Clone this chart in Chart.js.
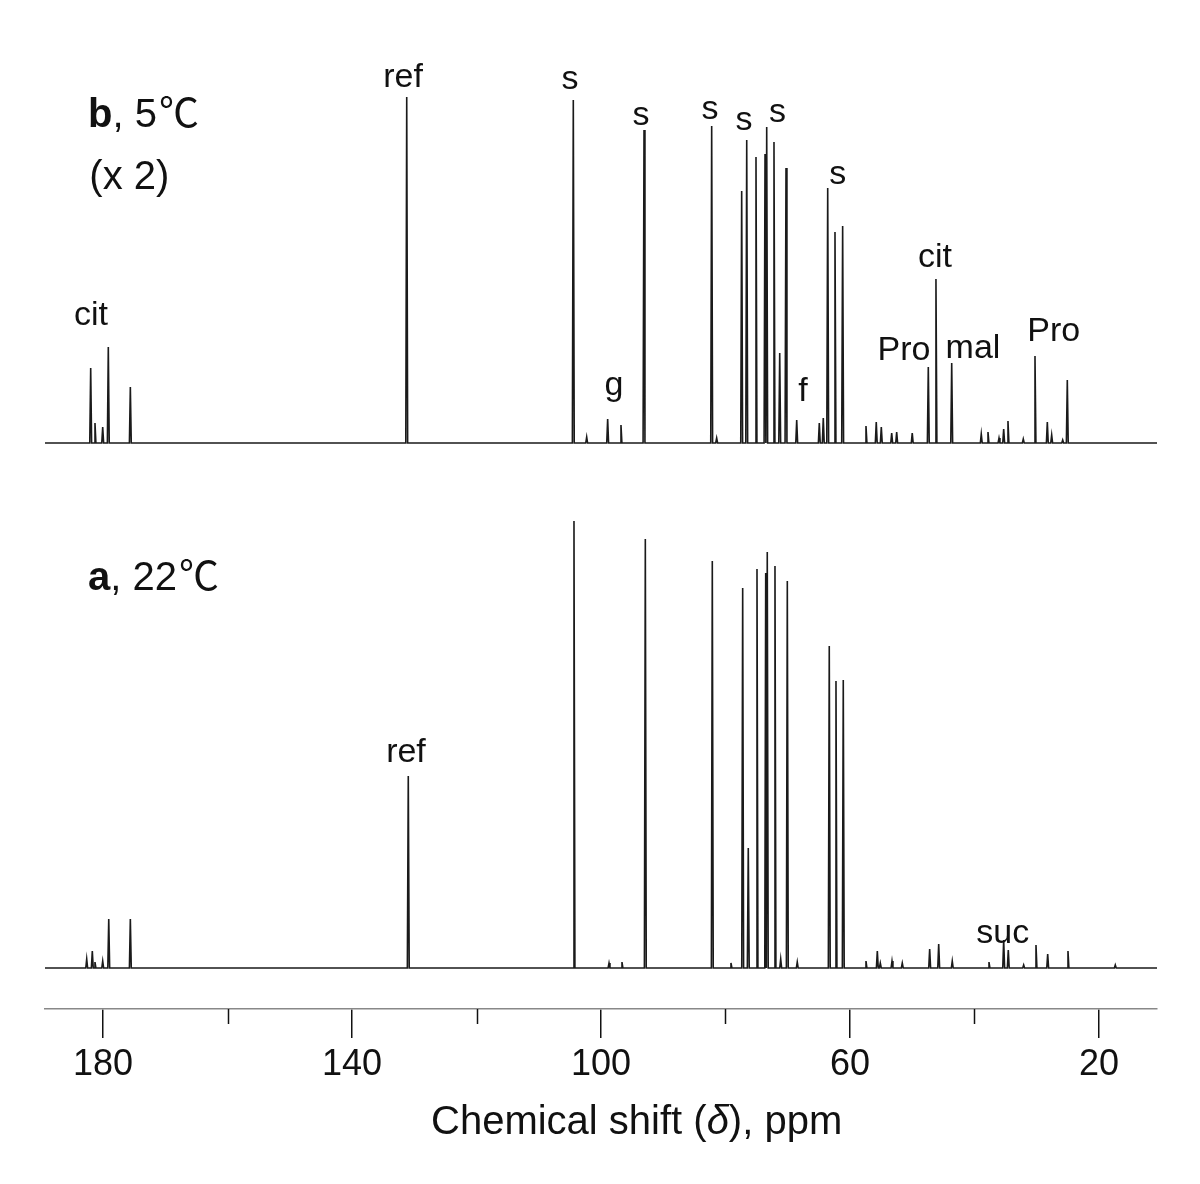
<!DOCTYPE html>
<html>
<head>
<meta charset="utf-8">
<script src="https://cdn.jsdelivr.net/npm/chart.js@4.4.1/dist/chart.umd.min.js"></script>
<style>
  html, body { margin: 0; padding: 0; background: #fff; }
  #wrap { width: 1200px; height: 1184px; }
</style>
</head>
<body>
<div id="wrap"><canvas id="nmrChart" width="1200" height="1184"></canvas></div>
<script>
const FONT = '"Liberation Sans", Arial, "Noto Sans CJK JP", sans-serif';
const CJK = '"Noto Sans CJK JP", "Liberation Sans", sans-serif';

// x axis range (ppm) and ticks
const ppmMin = 10.68, ppmMax = 189.32;
const tickVals = [180, 160, 140, 120, 100, 80, 60, 40, 20];
const labelVals = [180, 140, 100, 60, 20];

// trace b (5 C, x2) peaks: position (ppm) and height
const peakPpmB = [181.98, 181.29, 180.05, 179.15, 175.61, 131.21, 104.45, 102.30, 98.93, 96.79,
  93.09, 82.22, 81.42, 77.40, 76.59, 75.10, 73.65, 73.38, 72.21, 71.29, 70.28, 68.56,
  64.93, 64.29, 63.58, 62.41, 61.18, 57.43, 55.78, 54.97, 53.30, 52.50, 50.00,
  47.42, 46.19, 43.66, 38.91, 37.83, 36.06, 35.31, 34.62, 32.16, 30.28, 28.30, 27.60, 25.83, 25.09];
const peakHtB = [75, 20, 16, 96, 56, 346, 343, 6, 24, 18,
  313, 317, 5, 252, 303, 286, 289, 316, 301, 90, 275, 23,
  20, 25, 255, 211, 217, 17, 21, 16, 10, 11, 10,
  76, 164, 80, 9, 11, 5, 14, 22, 4, 87, 21, 8, 3, 63];

// trace a (22 C) peaks
const peakPpmA = [182.62, 181.72, 181.29, 180.05, 179.08, 175.61, 130.96, 104.34, 98.71, 96.63,
  92.88, 82.12, 79.12, 77.24, 76.34, 74.94, 73.54, 73.29, 72.05, 71.13, 70.07, 68.47,
  63.33, 62.25, 61.08, 57.43, 55.61, 55.13, 53.25, 51.60, 47.20, 45.75, 43.57,
  37.67, 35.31, 34.57, 32.10, 30.12, 28.24, 24.98, 17.38];
const peakHtA = [9, 17, 6, 7, 49, 49, 192, 447, 5, 6,
  429, 407, 5, 380, 120, 399, 395, 416, 402, 9, 387, 6,
  322, 287, 288, 7, 17, 5, 7, 5, 19, 24, 7,
  6, 28, 18, 3, 23, 14, 17, 3];

// peak labels: text, ppm, height, panel
const labText = ['ref', 's', 's', 's', 's', 's', 's', 'g', 'f', 'cit', 'cit', 'Pro', 'mal', 'Pro', 'ref', 'suc'];
const labPpm = [131.8, 104.98, 93.57, 82.49, 77.03, 71.65, 61.98, 97.91, 67.55, 181.93, 46.35, 51.33, 40.24, 27.28, 131.33, 35.47];
const labVal = [356, 354, 318, 324, 313, 321, 259, 48, 42, 118, 176, 83, 85, 102, 206, 25];
const labPanel = ['b', 'b', 'b', 'b', 'b', 'b', 'b', 'b', 'b', 'b', 'b', 'b', 'b', 'b', 'a', 'a'];

// panel captions: bold part, plain part, unit, ppm (left), height, panel
const capBold = ['b', '', 'a'];
const capText = [', 5', '(x 2)', ', 22'];
const capUnit = ['\u2103', '', '\u2103'];
const capPpm = [182.41, 182.2, 182.41];
const capVal = [316, 254, 378];
const capPanel = ['b', 'b', 'a'];

function spectrum(ppms, hts) {
  const half = 0.15;
  const pts = [{ x: ppmMax, y: 0 }, { x: ppmMin, y: 0 }];
  ppms.forEach((p, i) => {
    pts.push({ x: p + half, y: 0 }, { x: p, y: hts[i] }, { x: p - half, y: 0 });
  });
  pts.sort((a, b) => b.x - a.x);
  return pts;
}

const annotPlugin = {
  id: 'annot',
  afterDraw(chart) {
    const c = chart.ctx;
    const xs = chart.scales.x;
    c.save();
    c.fillStyle = '#111';
    c.textBaseline = 'alphabetic';

    // peak labels
    c.font = '34px ' + FONT;
    c.textAlign = 'center';
    labText.forEach((t, i) => {
      const ys = chart.scales[labPanel[i] === 'a' ? 'ya' : 'yb'];
      c.fillText(t, xs.getPixelForValue(labPpm[i]), ys.getPixelForValue(labVal[i]));
    });

    // panel captions
    c.textAlign = 'left';
    capText.forEach((t, i) => {
      const ys = chart.scales[capPanel[i] === 'a' ? 'ya' : 'yb'];
      let x = xs.getPixelForValue(capPpm[i]);
      const y = ys.getPixelForValue(capVal[i]);
      if (capBold[i]) {
        c.font = 'bold 40px ' + FONT;
        c.fillText(capBold[i], x, y);
        x += c.measureText(capBold[i]).width;
      }
      c.font = '40px ' + FONT;
      c.fillText(t, x, y);
      x += c.measureText(t).width;
      if (capUnit[i]) {
        c.font = '40px ' + CJK;
        c.fillText(capUnit[i], x + 2, y);
      }
    });

    // minor ticks
    const bottom = chart.chartArea.bottom;
    c.strokeStyle = '#111';
    c.lineWidth = 1.5;
    tickVals.filter(v => !labelVals.includes(v)).forEach(v => {
      const px = Math.round(xs.getPixelForValue(v)) + 0.5;
      c.beginPath();
      c.moveTo(px, bottom);
      c.lineTo(px, bottom + 15);
      c.stroke();
    });

    // axis title with italic delta
    const parts = [['Chemical shift (', ''], ['\u03b4', 'italic '], ['), ppm', '']];
    let tx = 431;
    const ty = 1134;
    parts.forEach(([s, st]) => {
      c.font = st + '40px ' + FONT;
      c.fillText(s, tx, ty);
      tx += c.measureText(s).width;
    });
    c.restore();
  }
};

const ctx = document.getElementById('nmrChart').getContext('2d');
const chart = new Chart(ctx, {
  type: 'line',
  data: {
    datasets: [
      {
        label: 'b, 5 C',
        data: spectrum(peakPpmB, peakHtB),
        yAxisID: 'yb',
        borderColor: '#1a1a1a',
        borderWidth: 1.6,
        pointRadius: 0,
        tension: 0,
        fill: false
      },
      {
        label: 'a, 22 C',
        data: spectrum(peakPpmA, peakHtA),
        yAxisID: 'ya',
        borderColor: '#1a1a1a',
        borderWidth: 1.6,
        pointRadius: 0,
        tension: 0,
        fill: false
      }
    ]
  },
  options: {
    responsive: false,
    animation: false,
    layout: { padding: { left: 45, right: 43, top: 40, bottom: 0 } },
    plugins: { legend: { display: false }, tooltip: { enabled: false } },
    scales: {
      x: {
        type: 'linear',
        reverse: true,
        min: ppmMin,
        max: ppmMax,
        afterBuildTicks: s => { s.ticks = tickVals.map(v => ({ value: v })); },
        afterFit: s => { s.height = 175; },
        border: { color: '#888', width: 1.5 },
        grid: {
          drawOnChartArea: false,
          tickLength: 29,
          lineWidth: 1.5,
          color: c => (c.tick && labelVals.includes(c.tick.value)) ? '#111' : 'rgba(0,0,0,0)'
        },
        ticks: {
          autoSkip: false,
          maxRotation: 0,
          padding: 5,
          color: '#111',
          font: { size: 36, family: FONT },
          callback: v => (labelVals.includes(v) ? String(v) : '')
        }
      },
      ya: { type: 'linear', display: false, min: -41, max: 928 },
      yb: { type: 'linear', display: false, min: -566, max: 403 }
    }
  },
  plugins: [annotPlugin]
});
</script>
</body>
</html>
